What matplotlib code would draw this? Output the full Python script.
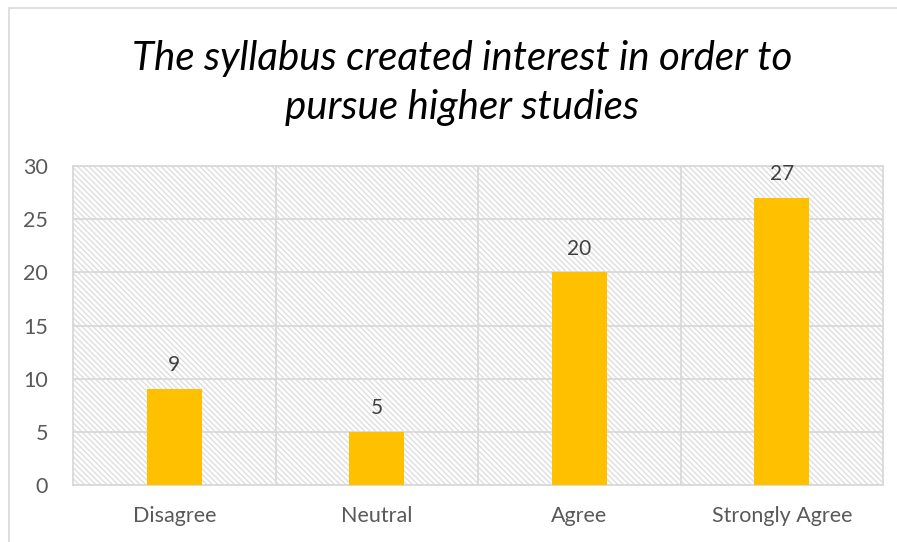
import matplotlib
matplotlib.use('Agg')
import matplotlib.pyplot as plt
from matplotlib.patches import Rectangle

# данные
categories = ['Disagree', 'Neutral', 'Agree', 'Strongly Agree']
values = [9, 5, 20, 27]
y_ticks = [0, 5, 10, 15, 20, 25, 30]
title = 'The syllabus created interest in order to\npursue higher studies'

plt.rcParams['font.family'] = ['Lato', 'DejaVu Sans']
plt.rcParams['hatch.linewidth'] = 1.0

fig = plt.figure(figsize=(8.97, 5.42), dpi=100)
ax = fig.add_axes([73 / 897, 57 / 542, 810 / 897, 319 / 542])

# рамка всей диаграммы
fig.patches.append(Rectangle((9 / 897, -0.05), 1.0, 1 - 8 / 542 + 0.05,
                             transform=fig.transFigure, fill=False,
                             edgecolor='#d9d9d9', lw=1.2))

# штриховка фона области построения
ax.add_patch(Rectangle((0, 0), 1, 1, transform=ax.transAxes, fill=False,
                       hatch='\\\\\\\\\\\\', edgecolor='#dedede', lw=0, zorder=0))

x = range(len(categories))
bars = ax.bar(x, values, width=0.27, color='#ffc000', zorder=3)
for xi, v in zip(x, values):
    ax.text(xi, v + 1.3, str(v), ha='center', va='bottom', fontsize=15, color='#404040')

ax.set_xlim(-0.5, len(categories) - 0.5)
ax.set_ylim(0, 30)
ax.set_yticks(y_ticks)
ax.set_xticks(list(x))
ax.set_xticklabels(categories)
ax.tick_params(length=0, labelsize=15.5, colors='#595959')
ax.tick_params(axis='x', pad=15)
ax.tick_params(axis='y', pad=18)

# сетка
ax.grid(axis='y', color='#d9d9d9', lw=1.3, zorder=1)
for b in [0.5, 1.5, 2.5]:
    ax.axvline(b, color='#d9d9d9', lw=1.3, zorder=1)
for s in ax.spines.values():
    s.set_color('#d9d9d9')
    s.set_linewidth(1.3)

fig.text(462 / 897, 1 - 83 / 542, title, ha='center', va='center',
         fontsize=29, style='italic', color='black', linespacing=1.38)

fig.savefig('out.png', dpi=100)
